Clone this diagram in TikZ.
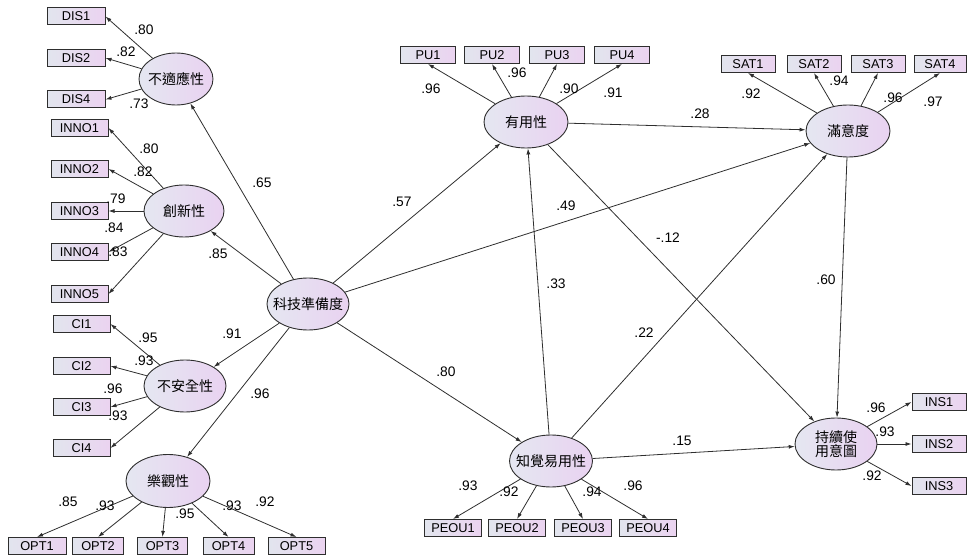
\documentclass[tikz,border=0pt]{standalone}
\usepackage{fontspec}
\setmainfont{Liberation Sans}
\newfontfamily\cjk{Noto Sans CJK TC}
\usetikzlibrary{shapes.geometric,arrows.meta}
\definecolor{boxL}{HTML}{E2E5EE}
\definecolor{boxR}{HTML}{EBD3F0}
\definecolor{elL}{HTML}{E5E7F1}
\definecolor{elR}{HTML}{E9D2F1}
\definecolor{lineC}{HTML}{2E2E2E}
\begin{document}
\begin{tikzpicture}[x=1pt,y=-1pt,
 ind/.style={draw=lineC, line width=1pt, left color=boxL, right color=boxR,
   minimum width=56pt, minimum height=17pt, inner sep=0pt,
   font=\fontsize{12.8}{12.8}\selectfont},
 lat/.style={ellipse, draw=lineC, line width=0.9pt, left color=elL, right color=elR,
   minimum width=82pt, minimum height=52pt, inner xsep=-30pt, inner ysep=-20pt, align=center,
   font=\cjk\fontsize{14}{13}\selectfont},
 arr/.style={-{Latex[length=6pt,width=4pt]}, draw=lineC, line width=0.8pt},
 lab/.style={font=\fontsize{13.8}{13.8}\selectfont, inner sep=0pt}
]
\useasboundingbox (0,0) rectangle (967,556);

% latent variables
\node[lat, minimum width=74pt] (D) at (176,79) {不適應性};
\node[lat, minimum width=80pt] (I) at (184,211) {創新性};
\node[lat] (C) at (185,386) {不安全性};
\node[lat, minimum width=84pt, minimum height=53pt] (O) at (168,481) {樂觀性};
\node[lat] (T) at (308,304) {科技準備度};
\node[lat, minimum width=84pt] (U) at (526,122) {有用性};
\node[lat, minimum width=84pt] (S) at (848,131) {滿意度};
\node[lat, minimum width=83pt] (E) at (551,461) {知覺易用性};
\node[lat] (K) at (836,444) {持續使\\用意圖};

% indicators
\node[ind, minimum width=58pt] (DIS1) at (76,16.5) {DIS1};
\node[ind, minimum width=58pt] (DIS2) at (76,58) {DIS2};
\node[ind, minimum width=58pt] (DIS4) at (76,99.5) {DIS4};
\node[ind, minimum width=57pt] (INNO1) at (79.5,128) {INNO1};
\node[ind, minimum width=57pt] (INNO2) at (79.5,169) {INNO2};
\node[ind, minimum width=57pt] (INNO3) at (79.5,211) {INNO3};
\node[ind, minimum width=57pt] (INNO4) at (79.5,252) {INNO4};
\node[ind, minimum width=57pt] (INNO5) at (79.5,294) {INNO5};
\node[ind, minimum width=57pt] (CI1) at (81.5,324) {CI1};
\node[ind, minimum width=57pt] (CI2) at (81.5,366) {CI2};
\node[ind, minimum width=57pt] (CI3) at (81.5,407) {CI3};
\node[ind, minimum width=57pt] (CI4) at (81.5,448) {CI4};
\node[ind, minimum width=58pt] (OPT1) at (37,546) {OPT1};
\node[ind, minimum width=51pt] (OPT2) at (98,546) {OPT2};
\node[ind, minimum width=50pt] (OPT3) at (162.5,546) {OPT3};
\node[ind, minimum width=51pt] (OPT4) at (228.5,546) {OPT4};
\node[ind, minimum width=57pt] (OPT5) at (296.5,546) {OPT5};
\node[ind, minimum width=55pt] (PU1) at (428,55) {PU1};
\node[ind, minimum width=55pt] (PU2) at (492,55) {PU2};
\node[ind, minimum width=55pt] (PU3) at (557,55) {PU3};
\node[ind, minimum width=55pt] (PU4) at (622,55) {PU4};
\node[ind, minimum width=54pt] (SAT1) at (748,64) {SAT1};
\node[ind, minimum width=54pt] (SAT2) at (814,64) {SAT2};
\node[ind, minimum width=54pt] (SAT3) at (878,64) {SAT3};
\node[ind, minimum width=52pt] (SAT4) at (940,64) {SAT4};
\node[ind, minimum width=57pt] (PEOU1) at (453,528) {PEOU1};
\node[ind, minimum width=57pt] (PEOU2) at (517,528) {PEOU2};
\node[ind, minimum width=57pt] (PEOU3) at (583,528) {PEOU3};
\node[ind, minimum width=57pt] (PEOU4) at (648,528) {PEOU4};
\node[ind, minimum width=54pt] (INS1) at (939,402) {INS1};
\node[ind, minimum width=54pt] (INS2) at (939,444) {INS2};
\node[ind, minimum width=54pt] (INS3) at (939,486) {INS3};

% measurement arrows
\foreach \b in {DIS1,DIS2,DIS4} \draw[arr] (D) -- (\b.east);
\foreach \b in {INNO1,INNO2,INNO3,INNO4,INNO5} \draw[arr] (I) -- (\b.east);
\foreach \b in {CI1,CI2,CI3,CI4} \draw[arr] (C) -- (\b.east);
\foreach \b in {OPT1,OPT2,OPT3,OPT4,OPT5} \draw[arr] (O) -- (\b.north);
\foreach \b in {PU1,PU2,PU3,PU4} \draw[arr] (U) -- (\b.south);
\foreach \b in {SAT1,SAT2,SAT3,SAT4} \draw[arr] (S) -- (\b.south);
\foreach \b in {PEOU1,PEOU2,PEOU3,PEOU4} \draw[arr] (E) -- (\b.north);
\foreach \b in {INS1,INS2,INS3} \draw[arr] (K) -- (\b.west);

% structural arrows
\draw[arr] (T) -- (D);
\draw[arr] (T) -- (I);
\draw[arr] (T) -- (C);
\draw[arr] (T) -- (O);
\draw[arr] (T) -- (U);
\draw[arr] (T) -- (S);
\draw[arr] (T) -- (E);
\draw[arr] (E) -- (U);
\draw[arr] (E) -- (S);
\draw[arr] (E) -- (K);
\draw[arr] (U) -- (S);
\draw[arr] (U) -- (K);
\draw[arr] (S) -- (K);

% labels
\node[lab] (l1) at (144,30) {.80};
\node[lab] (l2) at (126,52) {.82};
\node[lab] (l3) at (139,104) {.73};
\node[lab] (l4) at (149,149) {.80};
\node[lab] (l5) at (143,172) {.82};
\node[lab] (l6) at (116,199) {.79};
\node[lab] (l7) at (114,228) {.84};
\node[lab] (l8) at (118,252) {.83};
\node[lab] (l9) at (218,254) {.85};
\node[lab] (l10) at (262,183) {.65};
\node[lab] (l11) at (402,202) {.57};
\node[lab] (l12) at (232,334) {.91};
\node[lab] (l13) at (148,338) {.95};
\node[lab] (l14) at (144,361) {.93};
\node[lab] (l15) at (113,389) {.96};
\node[lab] (l16) at (118,416) {.93};
\node[lab] (l17) at (260,394) {.96};
\node[lab] (l18) at (68,502) {.85};
\node[lab] (l19) at (105,506) {.93};
\node[lab] (l20) at (185,514) {.95};
\node[lab] (l21) at (232,506) {.93};
\node[lab] (l22) at (265,502) {.92};
\node[lab] (l23) at (446,372) {.80};
\node[lab] (l24) at (431,89) {.96};
\node[lab] (l25) at (517,73) {.96};
\node[lab] (l26) at (569,89) {.90};
\node[lab] (l27) at (613,93) {.91};
\node[lab] (l28) at (751,94) {.92};
\node[lab] (l29) at (839,81) {.94};
\node[lab] (l30) at (893,98) {.96};
\node[lab] (l31) at (933,102) {.97};
\node[lab] (l32) at (468,486) {.93};
\node[lab] (l33) at (509,492) {.92};
\node[lab] (l34) at (592,492) {.94};
\node[lab] (l35) at (633,486) {.96};
\node[lab] (l36) at (876,408) {.96};
\node[lab] (l37) at (885,432) {.93};
\node[lab] (l38) at (872,476) {.92};
\node[lab] (l39) at (826,280) {.60};
\node[lab] (l40) at (700,114) {.28};
\node[lab] (l41) at (682,441) {.15};
\node[lab] (l42) at (566,206) {.49};
\node[lab] (l43) at (668,238) {-.12};
\node[lab] (l44) at (556,284) {.33};
\node[lab] (l45) at (644,333) {.22};
\end{tikzpicture}
\end{document}
